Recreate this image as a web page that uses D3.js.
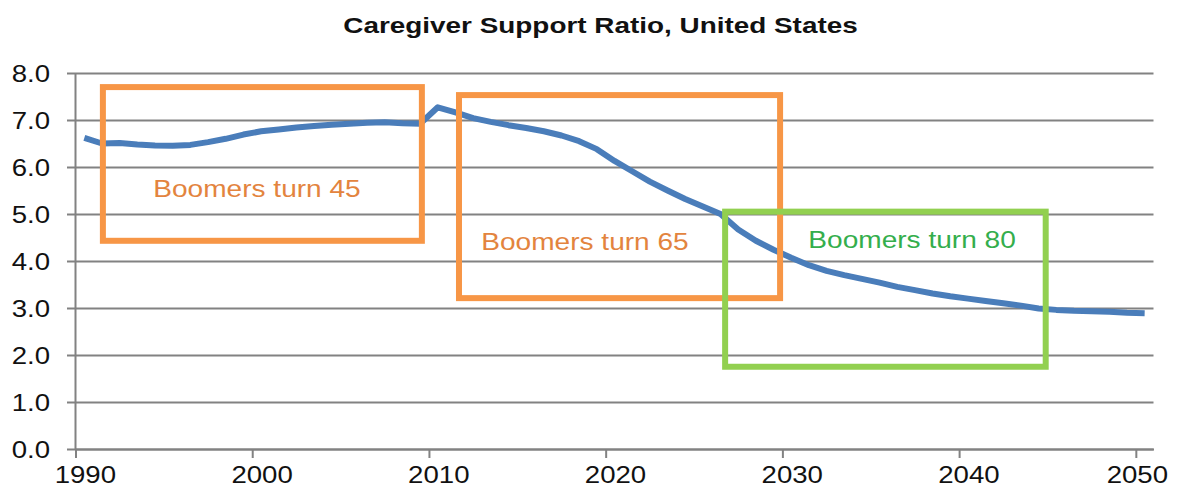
<!DOCTYPE html>
<html><head><meta charset="utf-8">
<script src="https://cdn.jsdelivr.net/npm/d3@7"></script>
<style>
html,body{margin:0;padding:0;background:#fff;}
svg{display:block;font-family:"Liberation Sans",Arial,sans-serif;}
</style>
</head><body>
<svg id="chart" width="1182" height="496"></svg>
<script>
// ---------- data ----------
const chartTitle = "Caregiver Support Ratio, United States";
const years = [1990,1991,1992,1993,1994,1995,1996,1997,1998,1999,
               2000,2001,2002,2003,2004,2005,2006,2007,2008,2009,
               2010,2011,2012,2013,2014,2015,2016,2017,2018,2019,
               2020,2021,2022,2023,2024,2025,2026,2027,2028,2029,
               2030,2031,2032,2033,2034,2035,2036,2037,2038,2039,
               2040,2041,2042,2043,2044,2045,2046,2047,2048,2049,2050];
const supportRatio = [6.62,6.50,6.51,6.48,6.46,6.45,6.47,6.53,6.60,6.69,
                      6.76,6.80,6.84,6.87,6.90,6.92,6.94,6.95,6.93,6.92,
                      7.27,7.16,7.04,6.96,6.89,6.83,6.76,6.67,6.55,6.38,
                      6.13,5.91,5.69,5.50,5.32,5.16,5.00,4.67,4.43,4.24,
                      4.07,3.91,3.79,3.70,3.62,3.54,3.45,3.38,3.31,3.25,
                      3.20,3.15,3.10,3.05,2.99,2.96,2.94,2.93,2.92,2.90,2.89];
const xTickYears = [1990,2000,2010,2020,2030,2040,2050];
const yTickValues = [0,1,2,3,4,5,6,7,8];
// annotation boxes (in axis units)
const boxLabels = ["Boomers turn 45","Boomers turn 65","Boomers turn 80"];
const boxYearStart = [1991.55, 2011.70, 2026.76];
const boxYearEnd   = [2009.60, 2029.87, 2044.90];
const boxLow  = [4.43, 3.21, 1.75];
const boxHigh = [7.70, 7.53, 5.05];
const labelYear  = [2000.27, 2018.83, 2037.34];
const labelValue = [5.37, 4.23, 4.28];

// ---------- styles ----------
const SX = 1.2;
const boxStroke = ["#F79646","#F79646","#92D050"];
const labelFill = ["#E3843E","#E3843E","#34AE4C"];
const gridColor = "#828282";

const svg = d3.select("#chart");
svg.append("rect").attr("width",1182).attr("height",496).attr("fill","#fff");

const x = d3.scaleLinear().domain([1990, 2051]).range([75.5, 1153.5]);
const y = d3.scaleLinear().domain([0, 8]).range([449, 73]);
const lastTick = xTickYears[xTickYears.length-1];

// title
svg.append("text")
  .attr("transform", `translate(600.5,33) scale(1.24,1)`)
  .attr("text-anchor","middle")
  .attr("font-size",22.5).attr("font-weight","bold").attr("fill","#111")
  .text(chartTitle);

// y grid + labels
const gy = svg.append("g").attr("transform","translate(67,0)")
  .call(d3.axisLeft(y).tickValues(yTickValues).tickSize(-(1153.5-67)).tickFormat(d3.format(".1f")));
gy.select(".domain").remove();
gy.selectAll(".tick line").attr("stroke",gridColor).attr("stroke-width",2);
gy.selectAll(".tick text")
  .attr("x",0).attr("dy","0.36em")
  .attr("transform",`translate(-17,0) scale(${SX},1)`)
  .attr("text-anchor","end")
  .attr("font-size",23).attr("fill","#111");

// x axis (labels centred on the category, as in the source)
const gx = svg.append("g").attr("transform","translate(0,449)")
  .call(d3.axisBottom(x).tickValues(xTickYears).tickSize(9).tickSizeOuter(0).tickPadding(9).tickFormat(d3.format("d")));
gx.select(".domain").attr("stroke",gridColor).attr("stroke-width",2);
gx.selectAll(".tick line").attr("stroke",gridColor).attr("stroke-width",2);
gx.selectAll(".tick text")
  .attr("font-size",23).attr("fill","#111")
  .each(function(d){
    const t = d3.select(this);
    const yy = +t.attr("y");
    const dx = d === lastTick ? 1 : (x(d+0.5)-x(d)) + 0.5;
    t.attr("y",0).attr("transform",`translate(${dx},${yy}) scale(${SX},1)`);
  });

// y axis line
svg.append("line")
  .attr("x1",x(1990)).attr("x2",x(1990))
  .attr("y1",y(8)).attr("y2",y(0))
  .attr("stroke",gridColor).attr("stroke-width",2);

// series line
const line = d3.line()
  .x((d,i)=>x(years[i]+0.5))
  .y(d=>y(d));
svg.append("path")
  .datum(supportRatio)
  .attr("d",line)
  .attr("fill","none")
  .attr("stroke","#4A7DBA")
  .attr("stroke-width",6)
  .attr("stroke-linejoin","round");

// annotation boxes
boxLabels.forEach((lab,i)=>{
  svg.append("rect")
    .attr("x",x(boxYearStart[i]))
    .attr("y",y(boxHigh[i]))
    .attr("width",x(boxYearEnd[i])-x(boxYearStart[i]))
    .attr("height",y(boxLow[i])-y(boxHigh[i]))
    .attr("fill","none")
    .attr("stroke",boxStroke[i])
    .attr("stroke-width",6);
  svg.append("text")
    .attr("transform",`translate(${x(labelYear[i])},${y(labelValue[i])}) scale(1.17,1)`)
    .attr("text-anchor","middle")
    .attr("font-size",24)
    .attr("fill",labelFill[i])
    .text(lab);
});
</script>
</body></html>
